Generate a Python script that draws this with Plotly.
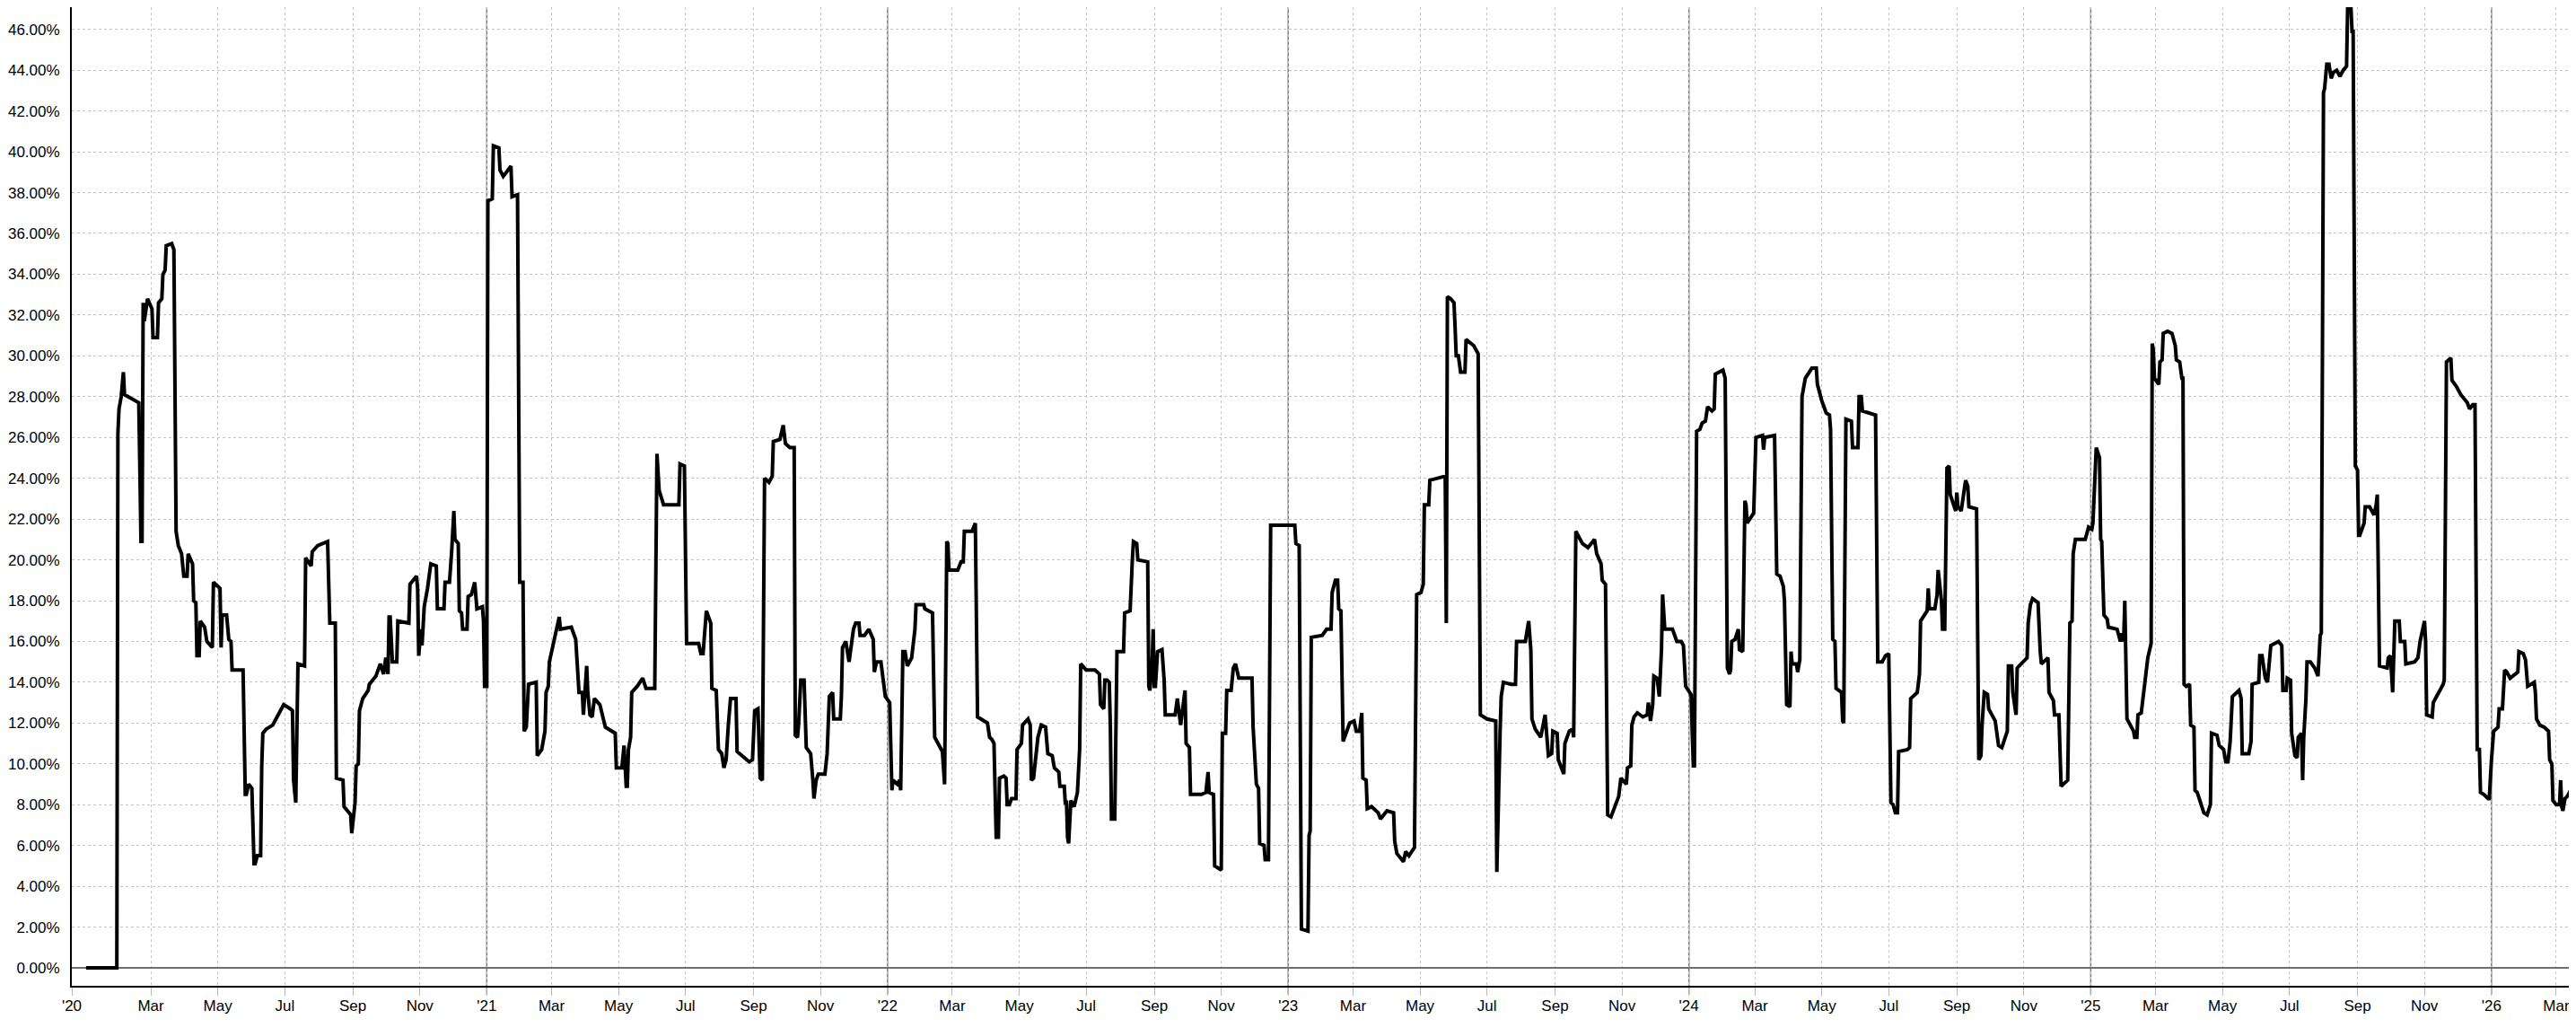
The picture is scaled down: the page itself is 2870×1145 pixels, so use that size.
import plotly.graph_objects as go

# daily volatility reading (vertices only)
dates_2020 = ["2020-01-02", "2020-01-30", "2020-01-31", "2020-02-01", "2020-02-03", "2020-02-05", "2020-02-06",
              "2020-02-12", "2020-02-19", "2020-02-20", "2020-02-21", "2020-02-22", "2020-02-23", "2020-02-24",
              "2020-02-27", "2020-03-02", "2020-03-03", "2020-03-07", "2020-03-08", "2020-03-11", "2020-03-12",
              "2020-03-14", "2020-03-15", "2020-03-20", "2020-03-22", "2020-03-24", "2020-03-26", "2020-03-29",
              "2020-03-31", "2020-04-03", "2020-04-04", "2020-04-08", "2020-04-09", "2020-04-11", "2020-04-12",
              "2020-04-14", "2020-04-15", "2020-04-19", "2020-04-21", "2020-04-26", "2020-04-27", "2020-05-03",
              "2020-05-04", "2020-05-05", "2020-05-09", "2020-05-11", "2020-05-13", "2020-05-14", "2020-05-24",
              "2020-05-26", "2020-05-27", "2020-05-29", "2020-06-01", "2020-06-03", "2020-06-04", "2020-06-06",
              "2020-06-09", "2020-06-10", "2020-06-11", "2020-06-14", "2020-06-20", "2020-06-23", "2020-06-30",
              "2020-07-06", "2020-07-08", "2020-07-09", "2020-07-11", "2020-07-13", "2020-07-19", "2020-07-20",
              "2020-07-25", "2020-07-26", "2020-07-31", "2020-08-09", "2020-08-11", "2020-08-16", "2020-08-17",
              "2020-08-23", "2020-08-24", "2020-08-30", "2020-08-31", "2020-09-03", "2020-09-04", "2020-09-06",
              "2020-09-07", "2020-09-10", "2020-09-15", "2020-09-16", "2020-09-22", "2020-09-26", "2020-09-29",
              "2020-10-01", "2020-10-03", "2020-10-04", "2020-10-05", "2020-10-07", "2020-10-11", "2020-10-12",
              "2020-10-22", "2020-10-23", "2020-10-29", "2020-10-30", "2020-10-31", "2020-11-02", "2020-11-03",
              "2020-11-05", "2020-11-08", "2020-11-11", "2020-11-16", "2020-11-17", "2020-11-23", "2020-11-24",
              "2020-11-28", "2020-11-30", "2020-12-02", "2020-12-03", "2020-12-06", "2020-12-07", "2020-12-09",
              "2020-12-10", "2020-12-14", "2020-12-15", "2020-12-18", "2020-12-21", "2020-12-22", "2020-12-23",
              "2020-12-28", "2020-12-29", "2020-12-30"]
vol_2020 = [0.0, 0.0, 26.2, 27.4, 28.0, 29.2, 28.1,
            27.9, 27.7, 24.4, 20.9, 20.9, 32.6, 31.7,
            32.8, 32.3, 30.9, 30.9, 32.6, 32.8, 34.0,
            34.2, 35.4, 35.5, 35.2, 21.4, 20.7, 20.3,
            19.2, 19.2, 20.3, 19.8, 18.0, 17.9, 15.3,
            15.3, 17.0, 16.7, 16.0, 15.7, 18.9, 18.6,
            15.7, 17.3, 17.3, 16.1, 16.0, 14.6, 14.6,
            8.5, 8.5, 9.0, 8.8, 5.1, 5.1, 5.5,
            5.5, 9.9, 11.5, 11.7, 11.9, 12.2, 12.9,
            12.7, 12.6, 9.2, 8.1, 14.9, 14.8, 20.1,
            19.7, 20.4, 20.7, 20.9, 16.9, 16.9, 9.3,
            9.2, 7.9, 7.5, 6.6, 8.1, 9.9, 10.0,
            12.6, 13.2, 13.6, 13.9, 14.3, 14.9, 14.4,
            15.2, 14.4, 17.2, 17.2, 15.0, 15.0, 17.0,
            16.9, 18.8, 19.2, 18.6, 15.3, 16.6, 15.8,
            17.7, 18.6, 19.8, 19.7, 17.6, 17.6, 18.9,
            18.9, 20.4, 22.4, 21.0, 20.8, 17.5, 17.4,
            16.6, 16.6, 18.2, 18.3, 18.9, 18.1, 17.6,
            17.7, 17.0, 13.8]

dates_2021 = ["2021-01-01", "2021-01-02", "2021-01-06", "2021-01-07", "2021-01-12", "2021-01-13", "2021-01-16",
              "2021-01-23", "2021-01-24", "2021-01-29", "2021-01-31", "2021-02-03", "2021-02-04", "2021-02-06",
              "2021-02-08", "2021-02-15", "2021-02-16", "2021-02-20", "2021-02-23", "2021-02-24", "2021-02-26",
              "2021-02-27", "2021-03-03", "2021-03-06", "2021-03-08", "2021-03-09", "2021-03-19", "2021-03-23",
              "2021-03-26", "2021-03-29", "2021-03-30", "2021-04-02", "2021-04-03", "2021-04-05", "2021-04-07",
              "2021-04-09", "2021-04-14", "2021-04-19", "2021-04-28", "2021-04-29", "2021-05-04", "2021-05-06",
              "2021-05-08", "2021-05-09", "2021-05-10", "2021-05-12", "2021-05-13", "2021-05-18", "2021-05-23",
              "2021-05-26", "2021-06-03", "2021-06-05", "2021-06-07", "2021-06-11", "2021-06-25", "2021-06-26",
              "2021-06-30", "2021-07-02", "2021-07-13", "2021-07-15", "2021-07-17", "2021-07-20", "2021-07-24",
              "2021-07-25", "2021-07-29", "2021-07-31", "2021-08-03", "2021-08-05", "2021-08-07", "2021-08-09",
              "2021-08-11", "2021-08-16", "2021-08-17", "2021-08-28", "2021-08-31", "2021-09-02", "2021-09-05",
              "2021-09-07", "2021-09-09", "2021-09-11", "2021-09-15", "2021-09-18", "2021-09-19", "2021-09-25",
              "2021-09-28", "2021-09-30", "2021-10-04", "2021-10-08", "2021-10-09", "2021-10-11", "2021-10-12",
              "2021-10-14", "2021-10-17", "2021-10-19", "2021-10-23", "2021-10-25", "2021-10-26", "2021-10-28",
              "2021-10-30", "2021-11-05", "2021-11-07", "2021-11-09", "2021-11-12", "2021-11-13", "2021-11-19",
              "2021-11-20", "2021-11-21", "2021-11-24", "2021-11-27", "2021-11-29", "2021-12-01", "2021-12-03",
              "2021-12-06", "2021-12-07", "2021-12-11", "2021-12-15", "2021-12-19", "2021-12-20", "2021-12-22",
              "2021-12-26", "2021-12-30"]
vol_2021 = [13.8, 37.6, 37.7, 40.3, 40.2, 39.1, 38.8,
            39.3, 37.8, 37.9, 18.9, 18.9, 11.6, 11.8,
            13.9, 14.0, 10.4, 10.7, 11.6, 13.5, 13.8,
            15.0, 16.0, 16.9, 17.2, 16.6, 16.7, 16.1,
            13.5, 13.5, 12.4, 14.8, 13.5, 12.4, 12.3,
            13.2, 12.9, 11.8, 11.5, 9.8, 9.8, 10.9,
            8.9, 8.9, 10.7, 11.3, 13.5, 13.8, 14.2,
            13.7, 13.7, 25.2, 23.4, 22.7, 22.7, 24.7,
            24.6, 15.9, 15.9, 15.4, 15.4, 17.5, 16.9,
            13.7, 13.6, 10.7, 10.5, 9.8, 10.2, 11.9,
            13.2, 13.2, 10.6, 10.1, 10.2, 12.6, 12.7,
            9.3, 9.2, 24.0, 23.8, 24.1, 25.8, 25.9,
            26.6, 25.7, 25.5, 25.5, 11.4, 11.3, 11.9,
            14.1, 14.1, 10.8, 10.5, 9.2, 8.3, 9.2,
            9.5, 9.5, 10.5, 13.3, 13.5, 12.2, 12.2,
            13.3, 15.7, 16.0, 15.0, 15.8, 16.6, 16.9,
            16.9, 16.3, 16.3, 16.6, 16.1, 14.5, 15.0,
            15.0, 13.3]

dates_2022 = ["2022-01-03", "2022-01-04", "2022-01-05", "2022-01-06", "2022-01-10", "2022-01-12", "2022-01-13",
              "2022-01-15", "2022-01-17", "2022-01-19", "2022-01-23", "2022-01-26", "2022-01-27", "2022-02-03",
              "2022-02-04", "2022-02-11", "2022-02-13", "2022-02-16", "2022-02-19", "2022-02-20", "2022-02-22",
              "2022-02-24", "2022-02-25", "2022-02-26", "2022-03-06", "2022-03-09", "2022-03-11", "2022-03-12",
              "2022-03-19", "2022-03-22", "2022-03-24", "2022-03-30", "2022-04-02", "2022-04-04", "2022-04-06",
              "2022-04-08", "2022-04-09", "2022-04-10", "2022-04-12", "2022-04-13", "2022-04-17", "2022-04-19",
              "2022-04-20", "2022-04-22", "2022-04-24", "2022-04-28", "2022-04-29", "2022-05-03", "2022-05-04",
              "2022-05-09", "2022-05-11", "2022-05-12", "2022-05-14", "2022-05-16", "2022-05-18", "2022-05-21",
              "2022-05-25", "2022-05-27", "2022-05-31", "2022-06-02", "2022-06-06", "2022-06-07", "2022-06-11",
              "2022-06-12", "2022-06-13", "2022-06-14", "2022-06-15", "2022-06-17", "2022-06-20", "2022-06-23",
              "2022-06-24", "2022-06-25", "2022-06-26", "2022-07-01", "2022-07-09", "2022-07-13", "2022-07-14",
              "2022-07-17", "2022-07-18", "2022-07-20", "2022-07-22", "2022-07-23", "2022-07-24", "2022-07-27",
              "2022-07-29", "2022-08-04", "2022-08-05", "2022-08-10", "2022-08-12", "2022-08-13", "2022-08-16",
              "2022-08-17", "2022-08-26", "2022-08-27", "2022-08-28", "2022-08-30", "2022-08-31", "2022-09-01",
              "2022-09-02", "2022-09-04", "2022-09-08", "2022-09-10", "2022-09-11", "2022-09-20", "2022-09-22",
              "2022-09-24", "2022-09-25", "2022-09-29", "2022-09-30", "2022-10-03", "2022-10-04", "2022-10-14",
              "2022-10-18", "2022-10-20", "2022-10-21", "2022-10-25", "2022-10-26", "2022-11-01", "2022-11-02",
              "2022-11-05", "2022-11-06", "2022-11-10", "2022-11-12", "2022-11-14", "2022-11-17", "2022-11-29",
              "2022-11-30", "2022-12-03", "2022-12-05", "2022-12-06", "2022-12-10", "2022-12-11", "2022-12-14",
              "2022-12-16"]
vol_2022 = [13.0, 10.7, 8.7, 9.2, 9.0, 9.2, 8.7,
            15.5, 15.5, 14.8, 15.2, 16.6, 17.8, 17.8,
            17.6, 17.4, 11.3, 11.0, 10.7, 10.6, 9.0,
            20.9, 20.8, 19.5, 19.5, 19.9, 19.9, 21.4,
            21.4, 21.8, 12.3, 12.1, 12.0, 11.3, 11.2,
            11.0, 8.4, 6.4, 6.4, 9.3, 9.4, 9.3,
            8.0, 8.0, 8.3, 8.3, 10.7, 11.0, 11.9,
            12.2, 11.9, 9.2, 9.3, 10.4, 11.3, 11.9,
            11.8, 10.5, 10.4, 9.8, 9.6, 8.9, 8.9,
            8.0, 8.2, 6.4, 6.1, 8.2, 7.9, 8.6,
            9.5, 10.7, 14.9, 14.6, 14.6, 14.4, 12.9,
            12.7, 14.1, 14.1, 14.0, 11.8, 7.3, 7.3,
            15.5, 15.5, 17.4, 17.5, 20.0, 20.9, 20.8,
            20.0, 19.9, 13.8, 13.6, 14.9, 16.6, 13.8,
            13.8, 15.5, 15.6, 14.1, 12.4, 12.4, 13.2,
            12.3, 11.9, 13.6, 11.0, 10.8, 8.5, 8.5,
            8.6, 9.6, 8.6, 8.5, 5.0, 4.8, 11.5,
            11.5, 13.6, 13.6, 14.7, 14.9, 14.2, 14.2,
            11.8, 9.0, 8.8, 6.1, 6.0, 5.3, 5.3,
            21.7]

dates_2023 = ["2023-01-07", "2023-01-08", "2023-01-11", "2023-01-13", "2023-01-19", "2023-01-20", "2023-01-21",
              "2023-01-22", "2023-02-01", "2023-02-05", "2023-02-09", "2023-02-10", "2023-02-13", "2023-02-15",
              "2023-02-16", "2023-02-18", "2023-02-20", "2023-02-26", "2023-03-02", "2023-03-04", "2023-03-07",
              "2023-03-09", "2023-03-10", "2023-03-13", "2023-03-14", "2023-03-18", "2023-03-24", "2023-03-26",
              "2023-04-01", "2023-04-07", "2023-04-08", "2023-04-10", "2023-04-16", "2023-04-18", "2023-04-21",
              "2023-04-26", "2023-04-28", "2023-05-02", "2023-05-04", "2023-05-05", "2023-05-09", "2023-05-10",
              "2023-05-24", "2023-05-25", "2023-05-26", "2023-05-29", "2023-06-01", "2023-06-02", "2023-06-03",
              "2023-06-05", "2023-06-07", "2023-06-11", "2023-06-12", "2023-06-19", "2023-06-23", "2023-06-25",
              "2023-07-01", "2023-07-09", "2023-07-10", "2023-07-13", "2023-07-14", "2023-07-16", "2023-07-23",
              "2023-07-27", "2023-07-28", "2023-08-05", "2023-08-07", "2023-08-08", "2023-08-10", "2023-08-11",
              "2023-08-14", "2023-08-19", "2023-08-23", "2023-08-25", "2023-08-26", "2023-08-29", "2023-08-30",
              "2023-09-03", "2023-09-04", "2023-09-09", "2023-09-10", "2023-09-14", "2023-09-17", "2023-09-18",
              "2023-09-20", "2023-09-26", "2023-10-01", "2023-10-07", "2023-10-09", "2023-10-13", "2023-10-14",
              "2023-10-17", "2023-10-18", "2023-10-19", "2023-10-22", "2023-10-29", "2023-10-31", "2023-11-05",
              "2023-11-06", "2023-11-09", "2023-11-10", "2023-11-12", "2023-11-15", "2023-11-20", "2023-11-24",
              "2023-11-25", "2023-11-27", "2023-11-29", "2023-11-30", "2023-12-03", "2023-12-05", "2023-12-07",
              "2023-12-08", "2023-12-09", "2023-12-10", "2023-12-17", "2023-12-21", "2023-12-25", "2023-12-27",
              "2023-12-29"]
vol_2023 = [21.7, 20.8, 20.7, 1.9, 1.8, 6.5, 6.7,
            16.2, 16.3, 16.6, 16.6, 18.4, 19.0, 19.0,
            17.6, 17.5, 11.1, 12.0, 12.1, 11.6, 11.6,
            12.5, 9.3, 9.2, 7.8, 7.9, 7.6, 7.3,
            7.7, 7.6, 6.2, 5.6, 5.2, 5.7, 5.5,
            5.9, 18.3, 18.4, 18.8, 22.7, 22.7, 23.9,
            24.1, 16.9, 32.9, 32.8, 32.6, 31.4, 30.0,
            30.0, 29.2, 29.2, 30.8, 30.5, 30.1, 12.4,
            12.2, 12.1, 4.7, 11.6, 13.3, 14.0, 13.9,
            13.9, 16.0, 16.0, 16.9, 17.0, 15.6, 12.2,
            11.7, 11.3, 12.4, 11.3, 10.4, 10.5, 11.6,
            11.5, 10.2, 9.5, 11.0, 11.6, 11.7, 11.3,
            21.4, 20.8, 20.6, 21.0, 20.3, 19.8, 19.0,
            18.8, 13.5, 7.5, 7.4, 8.4, 9.3, 9.0,
            9.8, 9.9, 11.9, 12.3, 12.5, 12.3, 12.4,
            13.0, 12.1, 12.9, 14.3, 14.2, 13.3, 15.6,
            18.3, 17.3, 16.6, 16.6, 16.0, 16.0, 15.8,
            13.8]

dates_2024 = ["2024-01-01", "2024-01-03", "2024-01-04", "2024-01-05", "2024-01-06", "2024-01-08", "2024-01-11",
              "2024-01-13", "2024-01-16", "2024-01-18", "2024-01-22", "2024-01-24", "2024-01-25", "2024-02-01",
              "2024-02-03", "2024-02-05", "2024-02-07", "2024-02-08", "2024-02-09", "2024-02-12", "2024-02-15",
              "2024-02-16", "2024-02-19", "2024-02-21", "2024-02-22", "2024-02-23", "2024-02-29", "2024-03-02",
              "2024-03-08", "2024-03-09", "2024-03-10", "2024-03-19", "2024-03-21", "2024-03-24", "2024-03-27",
              "2024-03-28", "2024-03-30", "2024-04-02", "2024-04-03", "2024-04-04", "2024-04-08", "2024-04-09",
              "2024-04-11", "2024-04-13", "2024-04-16", "2024-04-22", "2024-04-26", "2024-04-27", "2024-05-01",
              "2024-05-05", "2024-05-08", "2024-05-09", "2024-05-11", "2024-05-13", "2024-05-14", "2024-05-19",
              "2024-05-20", "2024-05-21", "2024-05-23", "2024-05-28", "2024-05-29", "2024-06-03", "2024-06-04",
              "2024-06-06", "2024-06-07", "2024-06-19", "2024-06-21", "2024-06-25", "2024-06-28", "2024-07-01",
              "2024-07-03", "2024-07-05", "2024-07-07", "2024-07-09", "2024-07-10", "2024-07-18", "2024-07-20",
              "2024-07-21", "2024-07-27", "2024-07-29", "2024-07-30", "2024-08-05", "2024-08-06", "2024-08-07",
              "2024-08-12", "2024-08-14", "2024-08-15", "2024-08-18", "2024-08-19", "2024-08-21", "2024-08-23",
              "2024-08-25", "2024-08-26", "2024-08-31", "2024-09-01", "2024-09-02", "2024-09-05", "2024-09-09",
              "2024-09-11", "2024-09-12", "2024-09-19", "2024-09-21", "2024-09-23", "2024-09-24", "2024-09-26",
              "2024-09-29", "2024-09-30", "2024-10-06", "2024-10-08", "2024-10-09", "2024-10-12", "2024-10-17",
              "2024-10-18", "2024-10-21", "2024-10-22", "2024-10-24", "2024-10-25", "2024-10-26", "2024-10-30",
              "2024-11-04", "2024-11-05", "2024-11-07", "2024-11-09", "2024-11-14", "2024-11-16", "2024-11-17",
              "2024-11-23", "2024-11-24", "2024-11-28", "2024-11-29", "2024-12-03", "2024-12-04", "2024-12-05",
              "2024-12-11", "2024-12-12", "2024-12-13", "2024-12-15", "2024-12-16", "2024-12-18", "2024-12-27",
              "2024-12-30"]
vol_2024 = [13.6, 13.4, 11.6, 9.9, 9.9, 26.3, 26.4,
            26.7, 26.8, 27.5, 27.3, 27.4, 29.1, 29.3,
            28.9, 14.7, 14.4, 14.6, 16.0, 16.1, 16.6,
            15.6, 15.5, 22.9, 22.7, 21.8, 22.3, 26.0,
            26.1, 25.4, 26.0, 26.1, 19.3, 19.2, 18.7,
            18.0, 12.9, 12.8, 15.5, 14.9, 14.9, 14.5,
            15.1, 28.0, 28.9, 29.4, 29.4, 28.6, 27.8,
            27.2, 27.1, 26.4, 16.1, 16.0, 13.7, 13.5,
            12.1, 12.0, 26.9, 26.8, 25.5, 25.5, 28.0,
            28.0, 27.3, 27.1, 15.0, 15.0, 15.3, 15.4,
            8.1, 8.0, 7.6, 7.6, 10.6, 10.7, 10.8,
            13.2, 13.5, 14.4, 17.0, 17.5, 18.6, 17.6,
            17.6, 18.3, 19.5, 18.0, 16.6, 16.6, 24.5,
            24.6, 23.2, 22.4, 23.3, 22.6, 22.4, 23.9,
            23.6, 22.6, 22.5, 10.2, 10.4, 11.9, 13.5,
            13.4, 12.7, 12.1, 11.3, 10.9, 10.8, 11.6,
            14.8, 14.8, 13.5, 12.5, 12.4, 14.7, 14.9,
            15.2, 16.9, 17.8, 18.1, 17.9, 15.5, 14.9,
            15.2, 13.5, 13.1, 12.4, 12.4, 10.6, 8.9,
            9.2, 13.2, 16.9, 17.0, 20.3, 21.0, 21.0,
            21.6]

dates_2025 = ["2025-01-02", "2025-01-03", "2025-01-05", "2025-01-06", "2025-01-09", "2025-01-10", "2025-01-11",
              "2025-01-13", "2025-01-16", "2025-01-17", "2025-01-25", "2025-01-28", "2025-01-29", "2025-01-31",
              "2025-02-01", "2025-02-02", "2025-02-03", "2025-02-09", "2025-02-10", "2025-02-12", "2025-02-13",
              "2025-02-16", "2025-02-18", "2025-02-20", "2025-02-22", "2025-02-25", "2025-02-26", "2025-02-27",
              "2025-02-28", "2025-03-04", "2025-03-05", "2025-03-07", "2025-03-08", "2025-03-12", "2025-03-16",
              "2025-03-19", "2025-03-20", "2025-03-23", "2025-03-25", "2025-03-26", "2025-03-27", "2025-03-29",
              "2025-04-01", "2025-04-02", "2025-04-05", "2025-04-06", "2025-04-08", "2025-04-11", "2025-04-14",
              "2025-04-17", "2025-04-20", "2025-04-21", "2025-04-26", "2025-04-28", "2025-05-02", "2025-05-04",
              "2025-05-06", "2025-05-08", "2025-05-10", "2025-05-16", "2025-05-18", "2025-05-19", "2025-05-25",
              "2025-05-27", "2025-05-28", "2025-06-03", "2025-06-04", "2025-06-06", "2025-06-09", "2025-06-11",
              "2025-06-14", "2025-06-21", "2025-06-24", "2025-06-25", "2025-06-28", "2025-06-29", "2025-07-02",
              "2025-07-03", "2025-07-06", "2025-07-08", "2025-07-09", "2025-07-12", "2025-07-13", "2025-07-14",
              "2025-07-16", "2025-07-17", "2025-07-20", "2025-07-24", "2025-07-27", "2025-07-29", "2025-07-30",
              "2025-08-01", "2025-08-02", "2025-08-04", "2025-08-06", "2025-08-08", "2025-08-10", "2025-08-13",
              "2025-08-16", "2025-08-19", "2025-08-22", "2025-08-23", "2025-08-26", "2025-08-27", "2025-08-28",
              "2025-08-30", "2025-09-01", "2025-09-02", "2025-09-03", "2025-09-07", "2025-09-08", "2025-09-12",
              "2025-09-16", "2025-09-18", "2025-09-19", "2025-09-21", "2025-09-28", "2025-09-29", "2025-10-01",
              "2025-10-03", "2025-10-04", "2025-10-05", "2025-10-09", "2025-10-10", "2025-10-14", "2025-10-15",
              "2025-10-23", "2025-10-26", "2025-10-28", "2025-11-01", "2025-11-02", "2025-11-03", "2025-11-08",
              "2025-11-09", "2025-11-12", "2025-11-18", "2025-11-19", "2025-11-21", "2025-11-25", "2025-11-26",
              "2025-11-30", "2025-12-04", "2025-12-10", "2025-12-12", "2025-12-15", "2025-12-17", "2025-12-19",
              "2025-12-21", "2025-12-22", "2025-12-25", "2025-12-29", "2025-12-30"]
vol_2025 = [21.5, 21.8, 24.0, 25.5, 25.0, 21.0, 20.9,
            17.3, 17.1, 16.7, 16.6, 16.0, 16.4, 16.0,
            18.0, 15.6, 12.2, 11.6, 11.3, 11.3, 12.4,
            12.5, 13.5, 14.4, 15.2, 15.9, 30.6, 30.3,
            28.9, 28.6, 29.7, 29.8, 31.1, 31.2, 31.1,
            30.5, 29.8, 29.7, 28.9, 28.9, 13.9, 13.8,
            13.9, 11.9, 11.8, 8.7, 8.6, 8.1, 7.6,
            7.5, 8.0, 11.5, 11.4, 10.9, 10.7, 10.1,
            10.1, 11.1, 13.3, 13.6, 13.2, 10.5, 10.5,
            11.1, 13.9, 14.0, 15.3, 15.3, 14.2, 14.0,
            15.8, 16.0, 15.8, 13.6, 13.6, 14.2, 14.1,
            11.5, 10.4, 10.3, 11.3, 11.5, 9.2, 11.3,
            13.2, 15.0, 15.0, 14.7, 14.3, 16.3, 16.4,
            42.9, 43.1, 44.3, 44.3, 43.6, 43.9, 44.0,
            43.7, 44.0, 44.2, 47.1, 47.1, 45.9, 45.9,
            24.6, 24.4, 21.2, 21.2, 21.8, 22.6, 22.6,
            22.2, 22.7, 23.2, 14.8, 14.7, 15.2, 15.3,
            13.5, 15.3, 17.0, 17.0, 16.0, 16.0, 14.9,
            15.0, 15.2, 16.0, 17.0, 16.0, 12.4, 12.3,
            13.0, 13.3, 13.9, 14.1, 29.7, 29.9, 28.8,
            28.5, 28.1, 27.7, 27.4, 27.6, 27.6, 10.7,
            10.7, 8.6, 8.5, 8.3, 8.3]

dates_2026 = ["2026-01-01", "2026-01-02", "2026-01-03", "2026-01-07", "2026-01-08", "2026-01-11", "2026-01-13",
              "2026-01-15", "2026-01-18", "2026-01-25", "2026-01-26", "2026-01-30", "2026-02-01", "2026-02-03",
              "2026-02-06", "2026-02-09", "2026-02-10", "2026-02-11", "2026-02-14", "2026-02-18", "2026-02-22",
              "2026-02-23", "2026-02-25", "2026-02-26", "2026-03-01", "2026-03-04", "2026-03-05", "2026-03-06",
              "2026-03-07", "2026-03-09", "2026-03-11", "2026-03-14"]
vol_2026 = [10.2, 11.0, 11.6, 11.8, 12.7, 12.7, 14.6,
            14.5, 14.2, 14.5, 15.5, 15.4, 15.1, 13.8,
            13.9, 14.0, 13.5, 12.2, 11.9, 11.8, 11.6,
            10.2, 10.0, 8.2, 8.0, 8.0, 9.2, 7.9,
            7.7, 8.3, 8.4, 8.7]

# x axis labels: year marks and every other month
tick_dates = ["2019-12-20",
              "2020-03-01", "2020-05-01", "2020-07-01", "2020-09-01", "2020-11-01", "2021-01-01",
              "2021-03-01", "2021-05-01", "2021-07-01", "2021-09-01", "2021-11-01", "2022-01-01",
              "2022-03-01", "2022-05-01", "2022-07-01", "2022-09-01", "2022-11-01", "2023-01-01",
              "2023-03-01", "2023-05-01", "2023-07-01", "2023-09-01", "2023-11-01", "2024-01-01",
              "2024-03-01", "2024-05-01", "2024-07-01", "2024-09-01", "2024-11-01", "2025-01-01",
              "2025-03-01", "2025-05-01", "2025-07-01", "2025-09-01", "2025-11-01", "2026-01-01",
              "2026-03-01"]
tick_text = ["'20",
             "Mar", "May", "Jul", "Sep", "Nov", "'21",
             "Mar", "May", "Jul", "Sep", "Nov", "'22",
             "Mar", "May", "Jul", "Sep", "Nov", "'23",
             "Mar", "May", "Jul", "Sep", "Nov", "'24",
             "Mar", "May", "Jul", "Sep", "Nov", "'25",
             "Mar", "May", "Jul", "Sep", "Nov", "'26",
             "Mar"]
year_starts = ["2021-01-01", "2022-01-01", "2023-01-01", "2024-01-01", "2025-01-01", "2026-01-01"]

dates = dates_2020 + dates_2021 + dates_2022 + dates_2023 + dates_2024 + dates_2025 + dates_2026
vol = vol_2020 + vol_2021 + vol_2022 + vol_2023 + vol_2024 + vol_2025 + vol_2026

fig = go.Figure()
fig.add_trace(go.Scatter(x=dates, y=vol, mode='lines', line=dict(color='#000000', width=4),
                         showlegend=False, hoverinfo='x+y'))

# solid separators at each new year
for ys in year_starts:
    fig.add_shape(type='line', xref='x', yref='paper', x0=ys, x1=ys, y0=-0.009, y1=1,
                  line=dict(color='#7a7a7a', width=1.5), layer='between')

# page body keeps an 8px margin, so the figure is sized to sit inside the window
fig.update_layout(
    width=2862, height=1129,
    margin=dict(l=72, r=0, t=0, b=39),
    plot_bgcolor='white', paper_bgcolor='white',
    font=dict(family='Liberation Sans, Arial, sans-serif', size=17, color='#000000'),
    xaxis=dict(type='date', range=['2019-12-20', '2026-03-19'],
               tickmode='array', tickvals=tick_dates, ticktext=tick_text,
               showgrid=True, gridcolor='#c4c4c4', griddash='dot', gridwidth=1,
               showline=True, linecolor='#000000', linewidth=2,
               ticks='outside', ticklen=9, tickcolor='#b8b8b8', tickwidth=1,
               ticklabelstandoff=-3, zeroline=False),
    yaxis=dict(range=[-0.88, 47.09], tick0=0, dtick=2, tickformat='.2f', ticksuffix='%',
               showgrid=True, gridcolor='#c4c4c4', griddash='dot', gridwidth=1,
               zeroline=True, zerolinecolor='#6e6e6e', zerolinewidth=1.5,
               showline=True, linecolor='#000000', linewidth=2,
               ticks='', ticklabelstandoff=8),
)

fig.write_html("out.html")
